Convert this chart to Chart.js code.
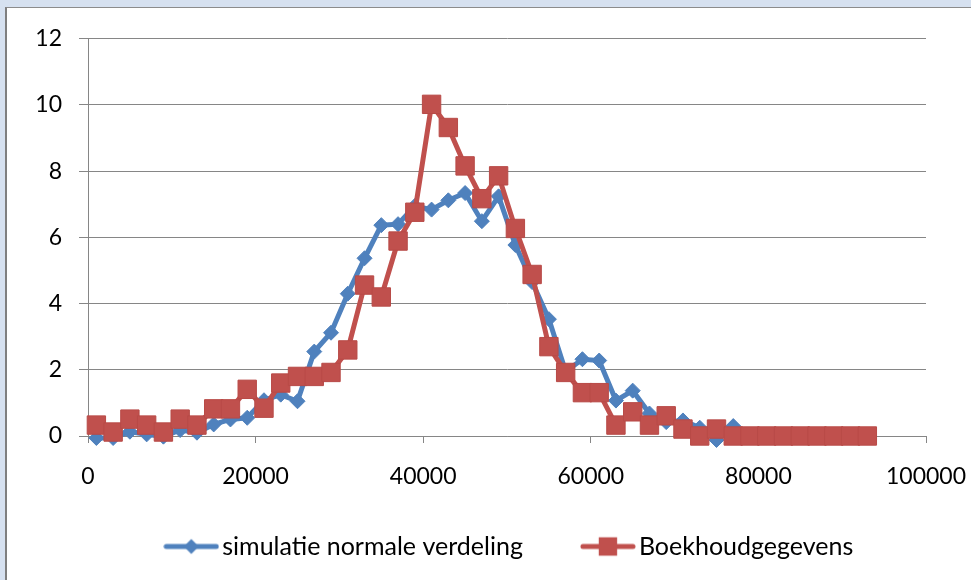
<!DOCTYPE html>
<html>
<head>
<meta charset="utf-8">
<title>simulatie vs boekhoudgegevens</title>
<script src="https://cdn.jsdelivr.net/npm/chart.js@4.4.1/dist/chart.umd.min.js"></script>
<style>
    html, body { margin: 0; padding: 0; }
    body { width: 971px; height: 580px; background: #d6e1f0; position: relative; overflow: hidden; }
    #frame {
        position: absolute; left: 5px; top: 7px; right: 0; bottom: 0;
        background: #fff;
        border-left: 2px solid #7f7f7f;
        border-top: 1px solid #8c8c8c;
    }
    #chart { position: absolute; left: 0; top: 0; }
</style>
</head>
<body>
<div id="frame"><canvas id="chart" width="964" height="572"></canvas></div>
<script>
// Bin centres (x) and the two series
const binCentres = [
    1000, 3000, 5000, 7000, 9000, 11000, 13000, 15000, 17000, 19000,
    21000, 23000, 25000, 27000, 29000, 31000, 33000, 35000, 37000, 39000,
    41000, 43000, 45000, 47000, 49000, 51000, 53000, 55000, 57000, 59000,
    61000, 63000, 65000, 67000, 69000, 71000, 73000, 75000, 77000, 79000,
    81000, 83000, 85000, 87000, 89000, 91000, 93000
];

const simulatie = [
    -0.06, -0.06, 0.13, 0.05, -0.02, 0.18, 0.1, 0.35, 0.5, 0.55,
    1.08, 1.25, 1.05, 2.55, 3.12, 4.3, 5.37, 6.37, 6.4, 6.95,
    6.84, 7.12, 7.34, 6.49, 7.24, 5.77, 4.65, 3.53, 1.95, 2.32,
    2.28, 1.07, 1.37, 0.68, 0.42, 0.47, 0.25, -0.12, 0.3, 0,
    0, 0, 0, 0, 0, 0, 0
];

const boekhoud = [
    0.33, 0.12, 0.51, 0.33, 0.12, 0.51, 0.33, 0.82, 0.82, 1.41,
    0.84, 1.6, 1.8, 1.8, 1.92, 2.6, 4.56, 4.2, 5.89, 6.76,
    10.02, 9.32, 8.16, 7.17, 7.86, 6.27, 4.88, 2.7, 1.92, 1.31,
    1.31, 0.33, 0.73, 0.33, 0.61, 0.21, 0, 0.21, 0, 0,
    0, 0, 0, 0, 0, 0, 0
];

const seriesNames = ['simulatie normale verdeling', 'Boekhoudgegevens'];

const BLUE = '#4f81bd';
const RED = '#c0504d';
const GRID = '#868686';
const FONT = 'Lato';

function toPoints(values) {
    return values.map((y, i) => ({ x: binCentres[i], y: y }));
}

// legend swatch: thick line with the marker in the middle
function legendSwatch(color, style, radius) {
    const c = document.createElement('canvas');
    c.width = 56;
    c.height = 30;
    const g = c.getContext('2d');
    g.strokeStyle = color;
    g.fillStyle = color;
    g.lineWidth = 5;
    g.lineCap = 'round';
    g.beginPath();
    g.moveTo(3, 15);
    g.lineTo(53, 15);
    g.stroke();
    Chart.helpers.drawPoint(g, { pointStyle: style, radius: radius, borderWidth: 0 }, 28, 15);
    return c;
}

const legendFontSize = 25;

// put the legend row where the reference has it
const legendPlacement = {
    id: 'legendPlacement',
    afterLayout(chart) {
        const lg = chart.legend;
        const pad = lg.options.labels.padding;
        lg.left = chart.chartArea.left + 6;
        lg.right = chart.chartArea.right + 6;
        lg.top = 538.5 - pad - legendFontSize / 2;
    }
};

const ctx = document.getElementById('chart').getContext('2d');

new Chart(ctx, {
    type: 'line',
    data: {
        datasets: [{
            label: seriesNames[1],
            data: toPoints(boekhoud),
            borderColor: RED,
            backgroundColor: RED,
            borderWidth: 5,
            pointStyle: 'rect',
            pointRadius: 13,
            pointBorderWidth: 1,
            pointBackgroundColor: RED,
            pointBorderColor: '#b84a47',
            tension: 0,
            clip: false
        }, {
            label: seriesNames[0],
            data: toPoints(simulatie),
            borderColor: BLUE,
            backgroundColor: BLUE,
            borderWidth: 5,
            pointStyle: 'rectRot',
            pointRadius: 7.5,
            pointBorderWidth: 1,
            pointBackgroundColor: BLUE,
            pointBorderColor: BLUE,
            tension: 0,
            clip: false
        }]
    },
    options: {
        responsive: false,
        animation: false,
        layout: { padding: { left: 0, top: 30, right: 45, bottom: 0 } },
        plugins: {
            tooltip: { enabled: false },
            legend: {
                position: 'bottom',
                maxHeight: 40,
                labels: {
                    usePointStyle: true,
                    pointStyleWidth: 62 - legendFontSize,
                    padding: 66.5,
                    color: '#000',
                    font: { family: FONT, size: legendFontSize },
                    generateLabels: () => [
                        { text: seriesNames[0], pointStyle: legendSwatch(BLUE, 'rectRot', 7.5), lineWidth: 0, datasetIndex: 1, hidden: false, fontColor: '#000' },
                        { text: seriesNames[1], pointStyle: legendSwatch(RED, 'rect', 13), lineWidth: 0, datasetIndex: 0, hidden: false, fontColor: '#000' }
                    ]
                }
            }
        },
        scales: {
            x: {
                type: 'linear',
                min: 0,
                max: 100000,
                afterFit(scale) {
                    scale.height = 104;
                    scale.paddingLeft = 10;
                    scale.paddingRight = 40;
                },
                ticks: {
                    stepSize: 20000,
                    padding: 20,
                    color: '#000',
                    font: { family: FONT, size: 23 },
                    maxRotation: 0,
                    callback: v => String(v)
                },
                grid: { drawOnChartArea: false, drawTicks: true, tickLength: 7, color: GRID },
                border: { color: GRID }
            },
            y: {
                min: 0,
                max: 12,
                afterFit(scale) { scale.width = 81; },
                ticks: {
                    stepSize: 2,
                    padding: 17,
                    color: '#000',
                    font: { family: FONT, size: 23 },
                    callback: v => String(v)
                },
                grid: { color: GRID, tickLength: 9 },
                border: { color: GRID }
            }
        }
    },
    plugins: [legendPlacement]
});
</script>
</body>
</html>
